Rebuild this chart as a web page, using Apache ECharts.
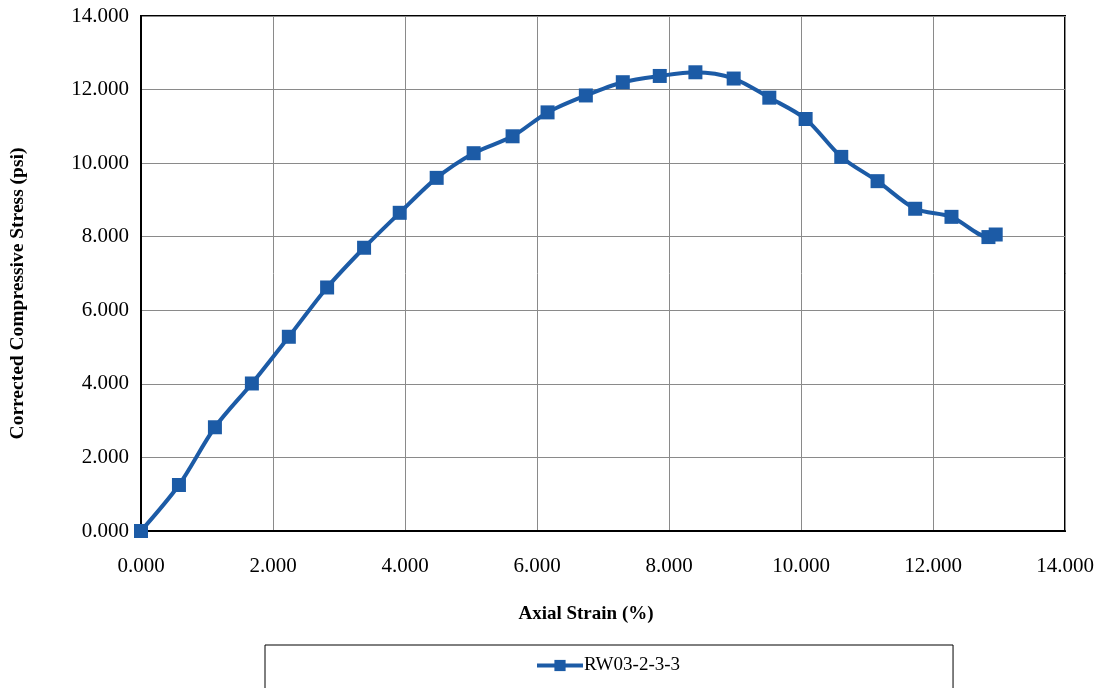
<!DOCTYPE html>
<html>
<head>
<meta charset="utf-8">
<script src="https://cdn.jsdelivr.net/npm/echarts@6/dist/echarts.min.js"></script>
<style>
html,body{margin:0;padding:0;background:#fff;}
#c{width:1099px;height:688px;}
</style>
</head>
<body>
<div id="c"></div>
<script>
const seriesName = 'RW03-2-3-3';
const strain = [0.000, 0.575, 1.12, 1.68, 2.24, 2.82, 3.38, 3.92, 4.48, 5.04, 5.63, 6.16, 6.74, 7.30, 7.86, 8.40, 8.98, 9.52, 10.07, 10.61, 11.16, 11.73, 12.28, 12.84, 12.95];
const stress = [0.000, 1.25, 2.82, 4.01, 5.28, 6.62, 7.70, 8.65, 9.60, 10.27, 10.73, 11.38, 11.84, 12.20, 12.37, 12.47, 12.30, 11.78, 11.20, 10.17, 9.51, 8.76, 8.54, 7.99, 8.06];
const xTitle = 'Axial Strain (%)';
const yTitle = 'Corrected Compressive Stress (psi)';

const pts = strain.map((x, i) => [x, stress[i]]);
const serif = '"Liberation Serif", "Times New Roman", serif';
const blue = '#1c5ba6';

const chart = echarts.init(document.getElementById('c'));
chart.setOption({
  backgroundColor: '#fff',
  animation: false,
  grid: {left: 140, right: 34, top: 16, bottom: 157, show: true, borderColor: '#000', borderWidth: 2, containLabel: false},
  xAxis: {
    type: 'value', min: 0, max: 14, interval: 2,
    name: xTitle, nameLocation: 'middle', nameGap: 74,
    nameTextStyle: {fontFamily: serif, fontSize: 19, fontWeight: 'bold', color: '#000', padding: [0, 34, 0, 0]},
    axisLine: {show: true, lineStyle: {color: '#000', width: 2}},
    axisTick: {show: false},
    axisLabel: {fontFamily: serif, fontSize: 21, color: '#000', margin: 25, formatter: v => v.toFixed(3)},
    splitLine: {show: true, lineStyle: {color: '#8a8a8a', width: 1}}
  },
  yAxis: {
    type: 'value', min: 0, max: 14, interval: 2,
    name: yTitle, nameLocation: 'middle', nameGap: 113,
    nameTextStyle: {fontFamily: serif, fontSize: 19.5, fontWeight: 'bold', color: '#000', padding: [0, 40, 0, 0]},
    axisLine: {show: true, lineStyle: {color: '#000', width: 2}},
    axisTick: {show: false},
    axisLabel: {fontFamily: serif, fontSize: 21, color: '#000', margin: 12, formatter: v => v.toFixed(3)},
    splitLine: {show: true, lineStyle: {color: '#8a8a8a', width: 1}}
  },
  legend: {
    left: 265, top: 645,
    padding: [11, 273, 16, 270],
    borderColor: '#000', borderWidth: 1,
    itemWidth: 46, itemHeight: 14, itemGap: 2,
    lineStyle: {width: 4},
    textStyle: {fontFamily: serif, fontSize: 19, color: '#000', padding: [0, 0, 0, -4]},
    data: [seriesName]
  },
  series: [{
    name: seriesName, type: 'line', data: pts, smooth: 0.3,
    symbol: 'rect', symbolSize: 14,
    lineStyle: {color: blue, width: 4},
    itemStyle: {color: blue}
  }]
});
</script>
</body>
</html>
